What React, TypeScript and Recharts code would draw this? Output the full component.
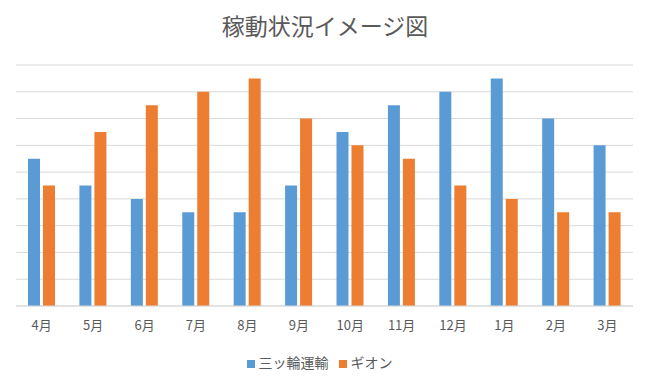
import { Bar, BarChart, CartesianGrid, Legend, XAxis, YAxis } from 'recharts';

const MONTHS = ['4月', '5月', '6月', '7月', '8月', '9月', '10月', '11月', '12月', '1月', '2月', '3月'];
const MITSUWA = [5.5, 4.5, 4, 3.5, 3.5, 4.5, 6.5, 7.5, 8, 8.5, 7, 6];
const GION    = [4.5, 6.5, 7.5, 8, 8.5, 7, 6, 5.5, 4.5, 4, 3.5, 3.5];
const Y_TICKS = [0, 1, 2, 3, 4, 5, 6, 7, 8, 9];

const DATA = MONTHS.map((month, i) => ({ month, mitsuwa: MITSUWA[i], gion: GION[i] }));

const FONT = '"Noto Sans CJK JP", "Noto Sans", sans-serif';
const TEXT = '#595959';
const GRID = '#d9d9d9';
const BLUE = '#5B9BD5';
const ORANGE = '#ED7D31';

export default function App() {
  return (
    <div style={{ position: 'fixed', top: 0, left: 0, width: 650, height: 383, background: '#fff', fontFamily: FONT }}>
      <div style={{
        position: 'absolute', top: 9, left: 0, width: 650,
        textAlign: 'center', fontSize: 23, lineHeight: '32px', color: TEXT,
      }}>
        稼動状況イメージ図
      </div>
      <BarChart
        width={650} height={383} data={DATA}
        margin={{ top: 65, right: 17, left: 16, bottom: 10 }}
        barSize={12} barGap={3}
      >
        <CartesianGrid stroke={GRID} vertical={false} />
        <XAxis
          dataKey="month"
          tick={{ fill: TEXT, fontSize: 13, fontFamily: FONT }}
          axisLine={{ stroke: GRID }} tickLine={false}
          height={43} dy={7}
        />
        <YAxis hide domain={[0, 9]} ticks={Y_TICKS} />
        {/* eslint-disable-next-line @typescript-eslint/no-explicit-any */}
        <Legend
          verticalAlign="bottom" iconType="square" iconSize={8}
          itemSorter={null as any}
          formatter={(value) => <span style={{ color: TEXT, fontSize: 14, fontFamily: FONT }}>{value}</span>}
        />
        <Bar dataKey="mitsuwa" name="三ッ輪運輸" fill={BLUE} isAnimationActive={false} />
        <Bar dataKey="gion" name="ギオン" fill={ORANGE} isAnimationActive={false} />
      </BarChart>
    </div>
  );
}
